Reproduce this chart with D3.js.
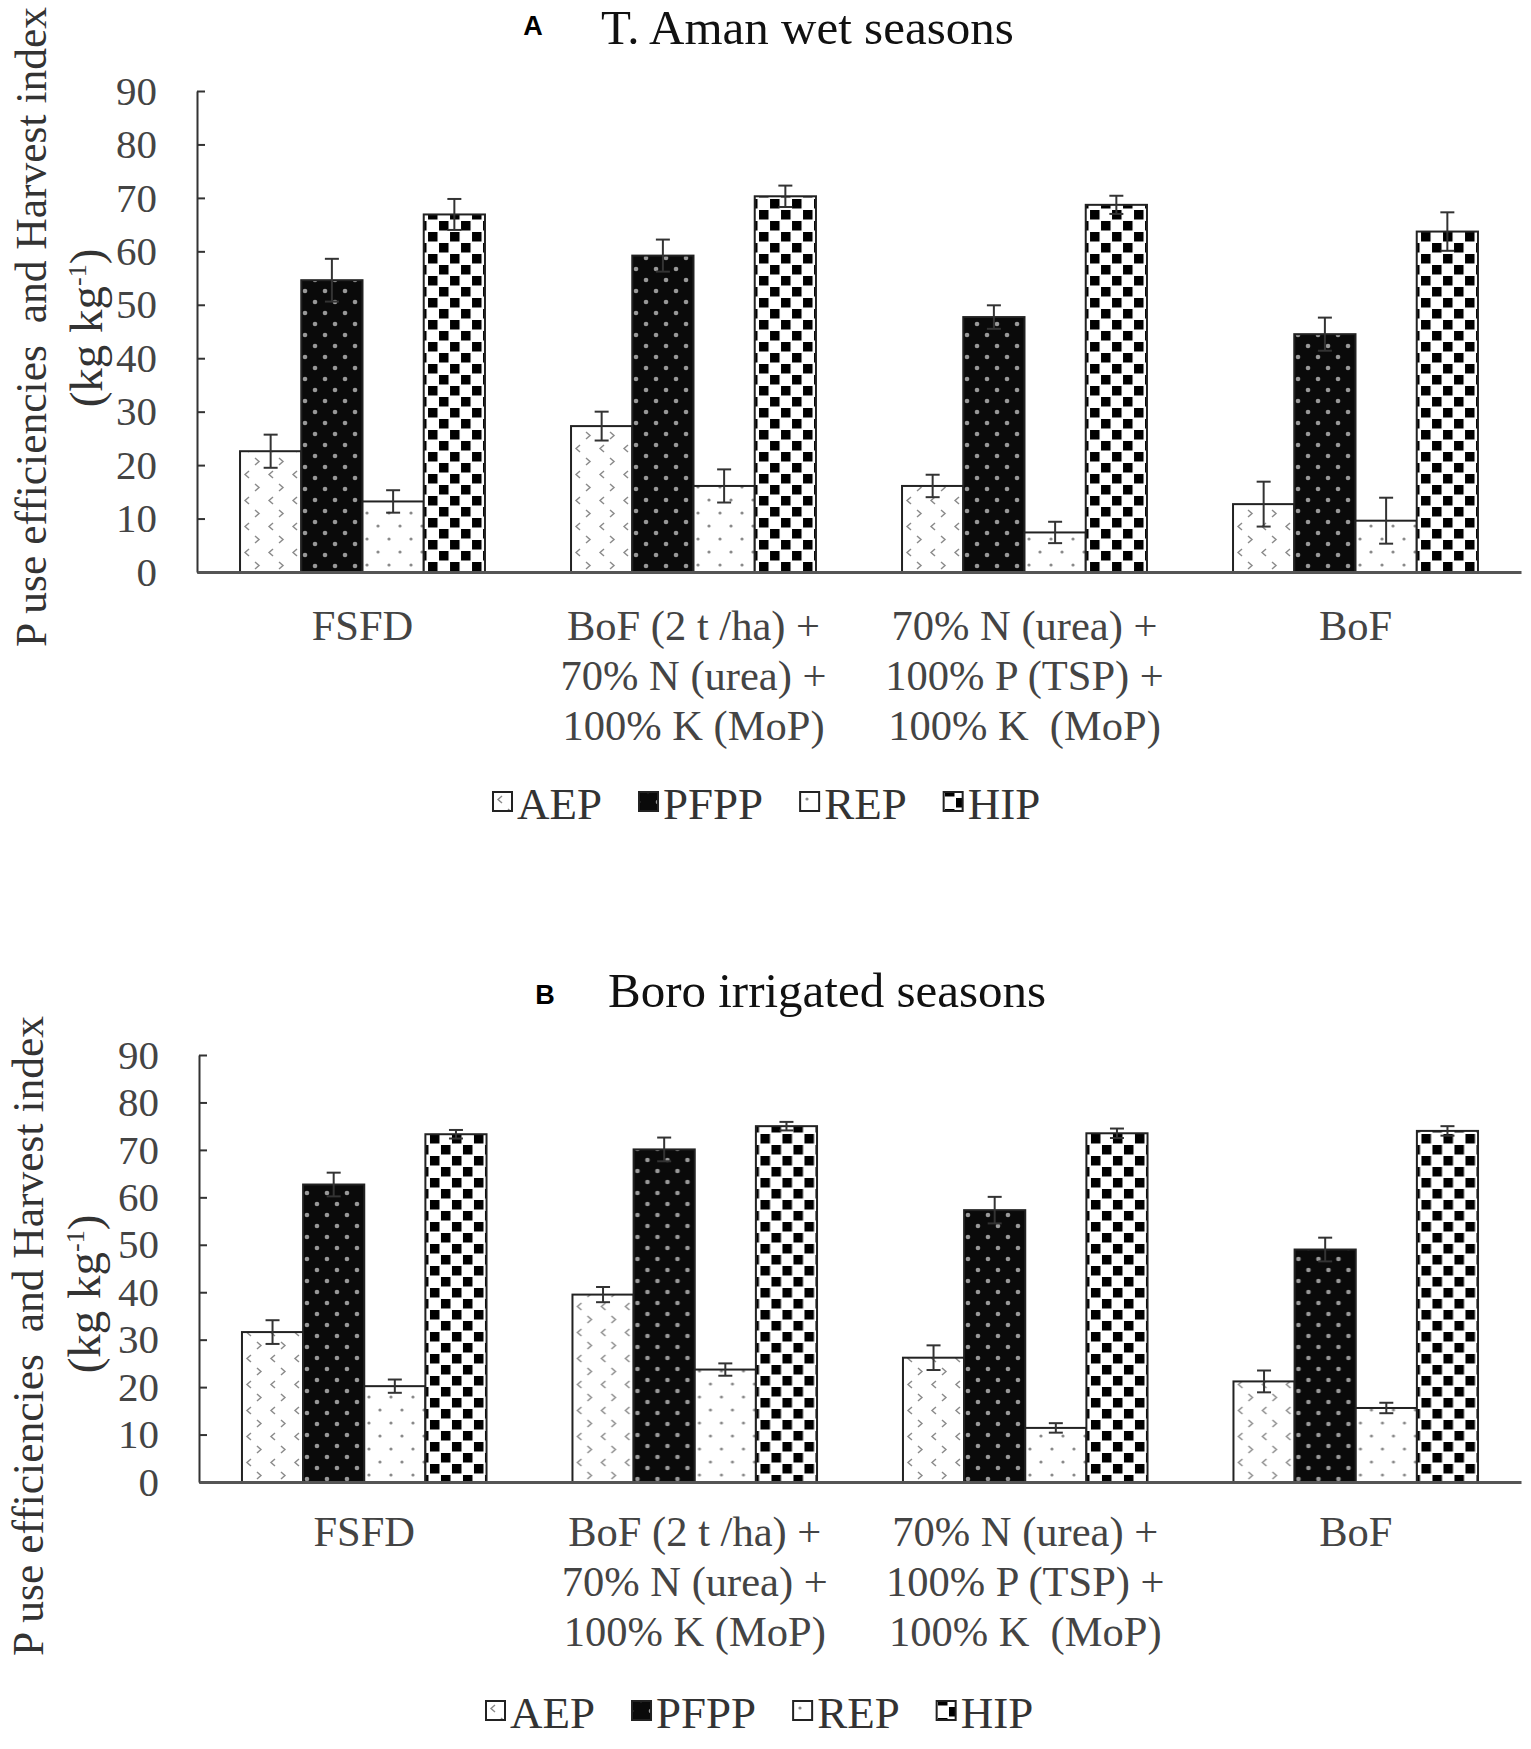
<!DOCTYPE html>
<html>
<head>
<meta charset="utf-8">
<script src="https://cdn.jsdelivr.net/npm/d3@7"></script>
<style>
  body { margin: 0; background: #fff; }
  text { font-family: "Liberation Serif", "Times New Roman", serif; }
</style>
</head>
<body>
<div id="chart"></div>
<script>
// treatments (x-axis label lines)
const treatments = ["FSFD", "BoF2t", "N70", "BoF"];
const treatmentLines = [
    ["FSFD"],
    ["BoF (2 t /ha) +", "70% N (urea) +", "100% K (MoP)"],
    ["70% N (urea) +", "100% P (TSP) +", "100% K  (MoP)"],
    ["BoF"]
];
const seriesNames = ["AEP", "PFPP", "REP", "HIP"];
const yTicks = [0, 10, 20, 30, 40, 50, 60, 70, 80, 90];

// A - T. Aman wet seasons
const amanAEP  = [22.6, 27.3, 16.1, 12.7];
const amanPFPP = [54.6, 59.2, 47.7, 44.5];
const amanREP  = [13.2, 16.1, 7.4, 9.6];
const amanHIP  = [66.9, 70.3, 68.7, 63.7];
const amanAEPErr  = [3.1, 2.7, 2.1, 4.2];
const amanPFPPErr = [4.0, 3.0, 2.2, 3.1];
const amanREPErr  = [2.1, 3.1, 2.0, 4.3];
const amanHIPErr  = [2.9, 2.0, 1.7, 3.6];

// B - Boro irrigated seasons
const boroAEP  = [31.6, 39.5, 26.2, 21.2];
const boroPFPP = [62.7, 70.1, 57.3, 49.0];
const boroREP  = [20.2, 23.7, 11.4, 15.6];
const boroHIP  = [73.3, 75.0, 73.5, 74.0];
const boroAEPErr  = [2.5, 1.6, 2.6, 2.3];
const boroPFPPErr = [2.5, 2.5, 2.8, 2.5];
const boroREPErr  = [1.4, 1.3, 1.0, 1.1];
const boroHIPErr  = [0.9, 0.9, 1.0, 1.0];

const W = 1531, H = 1749;
const svg = d3.select("#chart").append("svg")
    .attr("width", W)
    .attr("height", H);

// fill patterns
const defs = svg.append("defs");

let p = defs.append("pattern").attr("id", "pat-AEP")
    .attr("patternUnits", "userSpaceOnUse").attr("width", 24).attr("height", 26);
p.append("rect").attr("width", 24).attr("height", 26).attr("fill", "#fff");
p.append("path").attr("d", "M9,3 L5,6.5 L9,10").attr("fill", "none").attr("stroke", "#888").attr("stroke-width", 1.4);
p.append("path").attr("d", "M15,16 L19,19.5 L15,23").attr("fill", "none").attr("stroke", "#888").attr("stroke-width", 1.4);

p = defs.append("pattern").attr("id", "pat-PFPP")
    .attr("patternUnits", "userSpaceOnUse").attr("width", 20).attr("height", 22);
p.append("rect").attr("width", 20).attr("height", 22).attr("fill", "#0a0a0a");
p.append("circle").attr("cx", 5).attr("cy", 5).attr("r", 2.3).attr("fill", "#999");
p.append("circle").attr("cx", 15).attr("cy", 16).attr("r", 2.3).attr("fill", "#999");

p = defs.append("pattern").attr("id", "pat-REP")
    .attr("patternUnits", "userSpaceOnUse").attr("width", 22).attr("height", 26);
p.append("rect").attr("width", 22).attr("height", 26).attr("fill", "#fff");
p.append("circle").attr("cx", 6).attr("cy", 6).attr("r", 1.6).attr("fill", "#888");
p.append("circle").attr("cx", 17).attr("cy", 19).attr("r", 1.6).attr("fill", "#888");

p = defs.append("pattern").attr("id", "pat-HIP")
    .attr("patternUnits", "userSpaceOnUse").attr("width", 22).attr("height", 22);
p.append("rect").attr("width", 22).attr("height", 22).attr("fill", "#fff");
p.append("rect").attr("x", 1).attr("y", 1).attr("width", 9.5).attr("height", 9.5).attr("fill", "#000");
p.append("rect").attr("x", 12).attr("y", 12).attr("width", 9.5).attr("height", 9.5).attr("fill", "#000");

function drawPanel(cfg) {
    const g = svg.append("g");

    const x0 = d3.scaleBand()
        .domain(treatments)
        .range([cfg.left, cfg.right])
        .paddingInner(0.26)
        .paddingOuter(0.13);
    const x1 = d3.scaleBand()
        .domain(seriesNames)
        .range([0, x0.bandwidth()]);
    const y = d3.scaleLinear()
        .domain([0, 90])
        .range([cfg.bottom, cfg.top]);

    // title
    g.append("text")
        .attr("x", cfg.letterX).attr("y", cfg.letterY)
        .attr("text-anchor", "middle")
        .style("font-family", "'Liberation Sans', Arial, sans-serif")
        .style("font-weight", "bold")
        .style("font-size", "27px")
        .text(cfg.letter);
    g.append("text")
        .attr("x", cfg.titleX).attr("y", cfg.titleY)
        .style("font-size", "49px")
        .attr("fill", "#111")
        .text(cfg.title);

    // y axis, ticks inside
    const yAxis = g.append("g")
        .attr("transform", "translate(" + cfg.left + ",0)")
        .call(d3.axisLeft(y).tickValues(yTicks).tickSizeInner(-8).tickSizeOuter(0).tickPadding(40));
    yAxis.select(".domain").attr("stroke", "#333").attr("stroke-width", 2);
    yAxis.selectAll(".tick line").attr("stroke", "#333").attr("stroke-width", 2);
    yAxis.selectAll(".tick text")
        .style("font-family", "'Liberation Serif', serif")
        .style("font-size", "41px")
        .attr("fill", "#444");

    // y label
    g.append("text")
        .attr("transform", "translate(" + cfg.yl1x + "," + cfg.yl1y + ") rotate(-90)")
        .attr("text-anchor", "middle")
        .attr("dy", "0.35em")
        .style("font-size", "43.5px")
        .style("white-space", "pre")
        .attr("fill", "#333")
        .text("P use efficiencies  and Harvest index");
    const yl2 = g.append("text")
        .attr("transform", "translate(" + cfg.yl2x + "," + cfg.yl2y + ") rotate(-90)")
        .attr("text-anchor", "middle")
        .attr("dy", "0.35em")
        .style("font-size", "47px")
        .attr("fill", "#333");
    yl2.append("tspan").text("(kg kg");
    yl2.append("tspan").attr("dy", -16).style("font-size", "26px").text("-1");
    yl2.append("tspan").attr("dy", 16).text(")");

    // bars
    const rows = treatments.map((t, i) => ({
        t: t,
        vals: cfg.series.map((s, j) => ({ key: seriesNames[j], v: s[i], e: cfg.errors[j][i] }))
    }));
    const grp = g.selectAll(".grp")
        .data(rows)
        .join("g")
        .attr("transform", d => "translate(" + x0(d.t) + ",0)");
    grp.selectAll("rect")
        .data(d => d.vals)
        .join("rect")
        .attr("x", d => x1(d.key))
        .attr("y", d => y(d.v))
        .attr("width", x1.bandwidth())
        .attr("height", d => y(0) - y(d.v))
        .attr("fill", d => "url(#pat-" + d.key + ")")
        .attr("stroke", "#222")
        .attr("stroke-width", 2);

    // error bars
    const eb = grp.selectAll(".err")
        .data(d => d.vals)
        .join("g")
        .attr("class", "err")
        .attr("stroke", "#333")
        .attr("stroke-width", 2);
    eb.append("line")
        .attr("x1", d => x1(d.key) + x1.bandwidth() / 2)
        .attr("x2", d => x1(d.key) + x1.bandwidth() / 2)
        .attr("y1", d => y(d.v + d.e))
        .attr("y2", d => y(d.v - d.e));
    [1, -1].forEach(function(sgn) {
        eb.append("line")
            .attr("x1", d => x1(d.key) + x1.bandwidth() / 2 - 7)
            .attr("x2", d => x1(d.key) + x1.bandwidth() / 2 + 7)
            .attr("y1", d => y(d.v + sgn * d.e))
            .attr("y2", d => y(d.v + sgn * d.e));
    });

    // x axis
    const xAxis = g.append("g")
        .attr("transform", "translate(0," + cfg.bottom + ")")
        .call(d3.axisBottom(x0).tickSize(0).tickSizeOuter(0).tickFormat(""));
    xAxis.select(".domain").attr("stroke", "#555").attr("stroke-width", 3);

    // category labels
    treatments.forEach(function(t, i) {
        const txt = g.append("text")
            .attr("x", x0(t) + x0.bandwidth() / 2)
            .attr("y", cfg.catY)
            .attr("text-anchor", "middle")
            .style("font-size", "42.5px")
            .style("white-space", "pre")
            .attr("fill", "#444");
        treatmentLines[i].forEach(function(line, k) {
            txt.append("tspan")
                .attr("x", x0(t) + x0.bandwidth() / 2)
                .attr("dy", k === 0 ? 0 : 50)
                .text(line);
        });
    });

    // legend
    const leg = g.append("g").attr("transform", "translate(" + cfg.legX + "," + cfg.legY + ")");
    let cx = 0;
    seriesNames.forEach(function(name) {
        leg.append("rect")
            .attr("x", cx).attr("y", -27)
            .attr("width", 19).attr("height", 19)
            .attr("fill", "url(#pat-" + name + ")")
            .attr("stroke", "#222")
            .attr("stroke-width", 2);
        const t = leg.append("text")
            .attr("x", cx + 24).attr("y", 0)
            .style("font-size", "45px")
            .attr("fill", "#333")
            .text(name);
        cx += 24 + t.node().getComputedTextLength() + 37;
    });
}

drawPanel({
    letter: "A", title: "T. Aman wet seasons",
    letterX: 533, letterY: 35, titleX: 601, titleY: 44,
    left: 197, right: 1521, top: 91, bottom: 572,
    yl1x: 31, yl1y: 327, yl2x: 86, yl2y: 328,
    catY: 640, legX: 493, legY: 819,
    series: [amanAEP, amanPFPP, amanREP, amanHIP],
    errors: [amanAEPErr, amanPFPPErr, amanREPErr, amanHIPErr]
});

drawPanel({
    letter: "B", title: "Boro irrigated seasons",
    letterX: 545, letterY: 1004, titleX: 608, titleY: 1007,
    left: 199, right: 1521, top: 1055, bottom: 1482,
    yl1x: 28, yl1y: 1336, yl2x: 84, yl2y: 1294,
    catY: 1546, legX: 486, legY: 1728,
    series: [boroAEP, boroPFPP, boroREP, boroHIP],
    errors: [boroAEPErr, boroPFPPErr, boroREPErr, boroHIPErr]
});
</script>
</body>
</html>
